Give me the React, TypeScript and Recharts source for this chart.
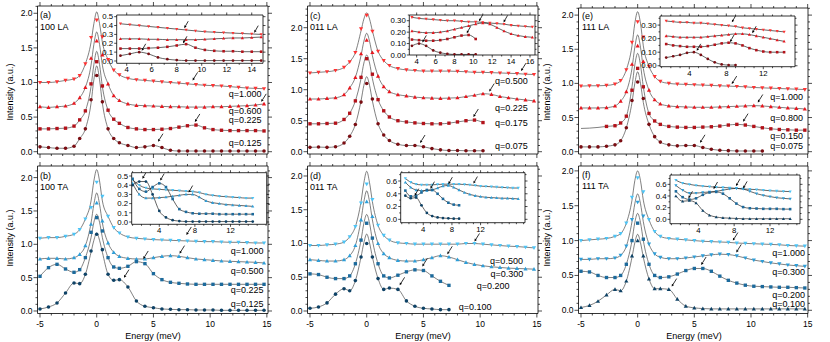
import React from 'react';
import { ComposedChart, Line, Scatter, XAxis, YAxis } from 'recharts';

const W = 830;
const H = 342;
const FONT = '"Liberation Sans", Arial, Helvetica, sans-serif';
const N = null;

// ---------- energy grids (meV) ----------
const M = [-5, -4.25, -3.5, -2.75, -2, -1.5, -1, -0.5, 0, 0.5, 1, 1.5, 2, 2.75, 3.5, 4.25, 5, 5.75, 6.5, 7.25, 8, 8.75, 9.5, 10.25, 11, 11.75, 12.5, 13.25, 14, 14.75];
const P = [-0.5, -0.25, 0, 0.25, 0.5];
const IA = [3.5, 4.25, 5, 5.75, 6.5, 7.25, 8, 8.75, 9.5, 10.25, 11, 11.75, 12.5, 13.25, 14, 14.75];
const IB = [1, 1.75, 2.5, 3.25, 4, 4.75, 5.5, 6.25, 7, 7.75, 8.5, 9.25, 10, 10.75, 11.5, 12.25, 13, 13.75, 14.5];
const IC = [3.5, 4.25, 5, 5.75, 6.5, 7.25, 8, 8.75, 9.5, 10.25, 11, 11.75, 12.5, 13.25, 14, 14.75, 15.5, 16.25];
const ID = [1.5, 2.25, 3, 3.75, 4.5, 5.25, 6, 6.75, 7.5, 8.25, 9, 9.75, 10.5, 11.25, 12, 12.75, 13.5, 14.25, 15, 15.75, 16.5, 17.25];
const IE = [1.5, 2.25, 3, 3.75, 4.5, 5.25, 6, 6.75, 7.5, 8.25, 9, 9.75, 10.5, 11.25, 12, 12.75, 13.5, 14.25];

// ---------- (a) 100 LA ----------
const a1 = [1.00, 1.00, 1.01, 1.03, 1.05, 1.10, 1.27, 1.65, 1.90, 1.66, 1.33, 1.18, 1.11, 1.06, 1.04, 1.03, 1.02, 1.01, 1.00, 0.99, 0.98, 0.97, 0.96, 0.955, 0.95, 0.94, 0.93, 0.92, 0.915, 0.91];
const a1P = [1.58, 1.85, 2.02, 1.85, 1.58];
const a2 = [0.65, 0.64, 0.65, 0.66, 0.70, 0.78, 0.93, 1.35, 1.60, 1.40, 0.98, 0.81, 0.74, 0.69, 0.67, 0.665, 0.66, 0.655, 0.65, 0.65, 0.645, 0.645, 0.645, 0.65, 0.65, 0.655, 0.66, 0.665, 0.675, 0.69];
const a2P = [1.25, 1.55, 1.73, 1.55, 1.25];
const a3 = [0.33, 0.33, 0.335, 0.34, 0.37, 0.46, 0.59, 0.98, 1.30, 0.95, 0.60, 0.47, 0.41, 0.35, 0.33, 0.32, 0.32, 0.325, 0.335, 0.355, 0.375, 0.385, 0.345, 0.32, 0.31, 0.305, 0.305, 0.305, 0.305, 0.30];
const a3P = [0.94, 1.26, 1.45, 1.26, 0.94];
const a4 = [0.07, 0.06, 0.05, 0.05, 0.08, 0.19, 0.33, 0.75, 1.10, 0.72, 0.33, 0.19, 0.13, 0.09, 0.06, 0.07, 0.09, 0.06, 0.02, 0.01, 0.01, 0.01, 0.01, 0.01, 0.01, 0.01, 0.01, 0.01, 0.01, 0.01];
const a4P = [0.70, 1.04, 1.24, 1.04, 0.70];
const aIn1 = [0.42, 0.41, 0.40, 0.39, 0.38, 0.37, 0.36, 0.35, 0.34, 0.33, 0.325, 0.32, 0.315, 0.31, 0.305, 0.30];
const aIn2 = [0.25, 0.25, 0.25, 0.245, 0.245, 0.24, 0.24, 0.24, 0.24, 0.245, 0.25, 0.255, 0.26, 0.26, 0.265, 0.27];
const aIn3 = [0.14, 0.14, 0.14, 0.145, 0.15, 0.16, 0.175, 0.19, 0.15, 0.125, 0.115, 0.11, 0.11, 0.105, 0.105, 0.105];
const aIn4 = [0.06, 0.08, 0.10, 0.08, 0.04, 0.02, 0.01, 0.005, 0.005, 0.005, 0.005, 0.005, 0.005, 0.005, 0.005, 0.005];
const aQ = ['q=1.000', 'q=0.600', 'q=0.225', 'q=0.125'];

// ---------- (b) 100 TA ----------
const b1 = [1.09, 1.10, 1.10, 1.12, 1.15, 1.22, 1.38, 1.55, 1.93, 1.72, 1.42, 1.25, 1.17, 1.11, 1.09, 1.08, 1.07, 1.065, 1.06, 1.055, 1.05, 1.045, 1.04, 1.04, 1.035, 1.03, 1.03, 1.025, 1.02, 1.02];
const b1P = [1.65, 1.95, 2.12, 1.95, 1.65];
const b2 = [0.78, 0.79, 0.79, 0.78, 0.80, 0.85, 0.98, 1.30, 1.62, 1.35, 1.02, 0.88, 0.82, 0.79, 0.78, 0.78, 0.80, 0.82, 0.83, 0.82, 0.80, 0.78, 0.77, 0.76, 0.75, 0.745, 0.74, 0.735, 0.73, 0.72];
const b2P = [1.32, 1.60, 1.77, 1.60, 1.32];
const b3 = [0.52, 0.65, 0.70, 0.63, 0.58, 0.62, 0.80, 1.18, 1.40, 1.20, 0.80, 0.66, 0.64, 0.67, 0.74, 0.71, 0.56, 0.47, 0.43, 0.415, 0.405, 0.40, 0.40, 0.40, 0.40, 0.40, 0.40, 0.40, 0.40, 0.40];
const b3P = [1.10, 1.33, 1.45, 1.33, 1.10];
const b4 = [0.03, 0.06, 0.12, 0.27, 0.42, 0.41, 0.55, 0.90, 1.15, 0.92, 0.55, 0.46, 0.47, 0.36, 0.15, 0.07, 0.05, 0.03, 0.025, 0.02, 0.02, 0.015, 0.015, 0.015, 0.01, 0.01, 0.01, 0.01, 0.01, 0.01];
const b4P = [0.88, 1.06, 1.17, 1.06, 0.88];
const bIn1 = [0.46, 0.40, 0.37, 0.36, 0.355, 0.35, 0.345, 0.34, 0.335, 0.33, 0.32, 0.30, 0.29, 0.28, 0.275, 0.27, 0.265, 0.26, 0.26];
const bIn2 = [0.42, 0.30, 0.26, 0.26, 0.265, 0.27, 0.28, 0.29, 0.30, 0.30, 0.27, 0.23, 0.21, 0.20, 0.19, 0.185, 0.18, 0.175, 0.17];
const bIn3 = [0.47, 0.36, 0.33, 0.38, 0.42, 0.38, 0.25, 0.14, 0.11, 0.095, 0.09, 0.09, 0.09, 0.085, 0.085, 0.085, 0.085, 0.085, 0.085];
const bIn4 = [0.40, 0.44, 0.44, 0.30, 0.12, 0.05, 0.02, 0.01, 0.005, 0.005, 0.005, 0.005, 0.005, 0.005, 0.005, 0.005, 0.005, 0.005, 0.005];
const bQ = ['q=1.000', 'q=0.500', 'q=0.225', 'q=0.125'];

// ---------- (c) 011 LA ----------
const c1 = [1.27, 1.28, 1.29, 1.31, 1.36, 1.45, 1.60, 1.98, 2.20, 1.94, 1.62, 1.47, 1.39, 1.34, 1.32, 1.31, 1.30, 1.30, 1.30, 1.30, 1.295, 1.29, 1.28, 1.28, 1.275, 1.27, 1.265, 1.26, 1.25, 1.245];
const c1P = [1.95, 2.14, 2.24, 2.14, 1.95];
const c2 = [0.85, 0.85, 0.86, 0.87, 0.92, 1.03, 1.20, 1.58, 1.80, 1.60, 1.22, 1.05, 0.97, 0.92, 0.90, 0.88, 0.87, 0.865, 0.86, 0.865, 0.87, 0.89, 0.91, 0.935, 0.925, 0.89, 0.87, 0.85, 0.835, 0.82];
const c2P = [1.55, 1.78, 1.91, 1.78, 1.55];
const c3 = [0.45, 0.45, 0.455, 0.46, 0.52, 0.62, 0.82, 1.20, 1.50, 1.25, 0.84, 0.66, 0.56, 0.50, 0.48, 0.465, 0.455, 0.45, 0.45, 0.46, 0.48, 0.50, 0.51, 0.47, N, N, N, N, N, N];
const c3P = [1.18, 1.43, 1.56, 1.43, 1.18];
const c4 = [0.07, 0.075, 0.07, 0.08, 0.14, 0.25, 0.44, 0.80, 1.10, 0.85, 0.45, 0.27, 0.18, 0.12, 0.10, 0.10, 0.08, 0.05, 0.03, 0.02, 0.02, 0.015, 0.015, 0.015, N, N, N, N, N, N];
const c4P = [0.82, 1.07, 1.21, 1.07, 0.82];
const cIn1 = [0.33, 0.32, 0.315, 0.31, 0.305, 0.30, 0.30, 0.295, 0.29, 0.29, 0.285, 0.28, 0.275, 0.27, 0.26, 0.255, 0.25, 0.245];
const cIn2 = [0.21, 0.20, 0.195, 0.195, 0.20, 0.21, 0.225, 0.24, 0.255, 0.27, 0.28, 0.27, 0.24, 0.21, 0.185, 0.17, 0.16, 0.155];
const cIn3 = [0.135, 0.13, 0.125, 0.125, 0.13, 0.14, 0.155, 0.17, 0.175, 0.14, N, N, N, N, N, N, N, N];
const cIn4 = [0.08, 0.10, 0.08, 0.04, 0.02, 0.01, 0.005, 0.005, 0.005, 0.005, N, N, N, N, N, N, N, N];
const cQ = ['q=0.500', 'q=0.225', 'q=0.175', 'q=0.075'];

// ---------- (d) 011 TA ----------
const d1 = [0.97, 0.97, 0.98, 0.99, 1.02, 1.10, 1.25, 1.60, 1.88, 1.65, 1.27, 1.12, 1.05, 1.01, 1.00, 0.99, 0.99, 0.99, 0.99, 0.99, 0.99, 1.00, 1.00, 0.99, 0.98, 0.97, 0.96, 0.955, 0.945, 0.935];
const d1P = [1.62, 1.90, 2.07, 1.90, 1.62];
const d2 = [0.76, 0.75, 0.74, 0.74, 0.76, 0.82, 0.97, 1.35, 1.62, 1.40, 1.00, 0.85, 0.79, 0.75, 0.74, 0.74, 0.76, 0.79, 0.82, 0.80, 0.76, 0.72, 0.69, 0.67, 0.655, 0.645, 0.635, 0.63, 0.625, 0.62];
const d2P = [1.35, 1.62, 1.78, 1.62, 1.35];
const d3 = [0.55, 0.54, 0.50, 0.48, 0.48, 0.52, 0.70, 1.05, 1.30, 1.08, 0.70, 0.52, 0.49, 0.53, 0.58, 0.61, 0.60, 0.52, 0.44, 0.38, N, N, N, N, N, N, N, N, N, N];
const d3P = [1.05, 1.30, 1.43, 1.30, 1.05];
const d4 = [0.04, 0.06, 0.12, 0.25, 0.33, 0.30, 0.45, 0.80, 1.00, 0.80, 0.48, 0.32, 0.34, 0.32, 0.15, 0.07, 0.04, 0.03, 0.02, 0.02, N, N, N, N, N, N, N, N, N, N];
const d4P = [0.80, 1.01, 1.14, 1.01, 0.80];
const dIn1 = [0.64, 0.58, 0.55, 0.54, 0.54, 0.54, 0.545, 0.55, 0.55, 0.55, 0.55, 0.545, 0.54, 0.53, 0.52, 0.515, 0.51, 0.505, 0.50, 0.495, 0.49, 0.49];
const dIn2 = [0.58, 0.50, 0.46, 0.45, 0.45, 0.46, 0.49, 0.52, 0.53, 0.50, 0.46, 0.42, 0.39, 0.37, 0.355, 0.345, 0.34, 0.335, 0.33, 0.33, 0.325, 0.32];
const dIn3 = [0.45, 0.36, 0.37, 0.42, 0.46, 0.46, 0.40, 0.32, 0.26, 0.23, 0.22, N, N, N, N, N, N, N, N, N, N, N];
const dIn4 = [0.37, 0.33, 0.34, 0.22, 0.10, 0.05, 0.03, 0.02, 0.015, 0.01, 0.01, N, N, N, N, N, N, N, N, N, N, N];
const dQ = ['q=0.500', 'q=0.300', 'q=0.200', 'q=0.100'];

// ---------- (e) 111 LA ----------
const e1 = [0.96, 0.965, 0.965, 0.97, 0.99, 1.04, 1.20, 1.60, 1.90, 1.68, 1.25, 1.10, 1.03, 1.00, 0.99, 0.985, 0.98, 0.975, 0.97, 0.965, 0.96, 0.955, 0.95, 0.94, 0.935, 0.93, 0.925, 0.92, 0.915, 0.91];
const e1P = [1.55, 1.88, 2.05, 1.88, 1.55];
const e2 = [0.64, 0.64, 0.64, 0.645, 0.67, 0.74, 0.88, 1.28, 1.55, 1.32, 0.90, 0.76, 0.70, 0.67, 0.66, 0.655, 0.65, 0.65, 0.65, 0.655, 0.66, 0.665, 0.67, 0.675, 0.67, 0.66, 0.65, 0.64, 0.635, 0.625];
const e2P = [1.22, 1.53, 1.71, 1.53, 1.22];
const e3 = [N, N, N, 0.37, 0.38, 0.42, 0.52, 0.90, 1.22, 0.95, 0.56, 0.45, 0.40, 0.37, 0.36, 0.355, 0.355, 0.36, 0.365, 0.375, 0.39, 0.40, 0.39, 0.37, 0.35, 0.335, 0.325, 0.32, 0.315, 0.315];
const e3P = [0.95, 1.27, 1.44, 1.27, 0.95];
const e3Ext = [[-5, 0.34], [-4.25, 0.345], [-3.5, 0.355]];
const e4 = [0.07, 0.07, 0.07, 0.08, 0.10, 0.16, 0.35, 0.75, 1.02, 0.78, 0.40, 0.22, 0.14, 0.10, 0.085, 0.09, 0.09, 0.06, 0.035, 0.02, 0.015, 0.01, 0.01, 0.01, 0.01, N, N, N, N, N];
const e4P = [0.72, 1.00, 1.17, 1.00, 0.72];
const eIn1 = [0.33, 0.325, 0.32, 0.32, 0.315, 0.315, 0.31, 0.305, 0.30, 0.295, 0.29, 0.28, 0.275, 0.27, 0.265, 0.26, 0.255, 0.25];
const eIn2 = [0.22, 0.215, 0.21, 0.21, 0.21, 0.21, 0.215, 0.22, 0.225, 0.23, 0.235, 0.235, 0.23, 0.22, 0.21, 0.20, 0.19, 0.18];
const eIn3 = [0.16, 0.15, 0.145, 0.14, 0.14, 0.14, 0.145, 0.155, 0.165, 0.17, 0.165, 0.15, 0.13, 0.115, 0.105, 0.10, 0.10, 0.10];
const eIn4 = [0.06, 0.07, 0.08, 0.095, 0.10, 0.08, 0.05, 0.025, 0.01, 0.005, 0.005, N, N, N, N, N, N, N];
const eQ = ['q=1.000', 'q=0.800', 'q=0.150', 'q=0.075'];

// ---------- (f) 111 TA ----------
const f1 = [1.00, 1.01, 1.02, 1.03, 1.06, 1.10, 1.25, 1.62, 1.90, 1.70, 1.30, 1.13, 1.06, 1.03, 1.02, 1.01, 1.00, 0.99, 0.985, 0.98, 0.975, 0.965, 0.96, 0.955, 0.95, 0.945, 0.94, 0.93, 0.925, 0.92];
const f1P = [1.58, 1.86, 2.00, 1.86, 1.58];
const f2 = [0.73, 0.73, 0.74, 0.74, 0.75, 0.79, 0.92, 1.30, 1.55, 1.35, 0.95, 0.81, 0.76, 0.74, 0.74, 0.75, 0.765, 0.78, 0.795, 0.805, 0.80, 0.78, 0.75, 0.72, 0.70, 0.68, 0.665, 0.65, 0.64, 0.63];
const f2P = [1.27, 1.53, 1.67, 1.53, 1.27];
const f3 = [0.56, 0.55, 0.50, 0.47, 0.47, 0.50, 0.66, 1.00, 1.25, 1.02, 0.66, 0.50, 0.47, 0.48, 0.52, 0.57, 0.60, 0.60, 0.56, 0.49, 0.43, 0.39, 0.36, 0.345, 0.34, 0.335, 0.33, 0.33, 0.325, 0.32];
const f3P = [1.00, 1.26, 1.39, 1.26, 1.00];
const f4 = [0.04, 0.07, 0.13, 0.22, 0.30, 0.28, 0.42, 0.78, 1.00, 0.78, 0.45, 0.31, 0.31, 0.30, 0.16, 0.06, 0.035, 0.025, 0.02, 0.02, 0.02, 0.02, 0.02, 0.02, 0.02, 0.02, 0.02, 0.02, 0.02, 0.02];
const f4P = [0.76, 0.97, 1.09, 0.97, 0.76];
const fIn1 = [0.67, 0.62, 0.60, 0.58, 0.57, 0.56, 0.55, 0.545, 0.54, 0.53, 0.52, 0.515, 0.51, 0.50, 0.49, 0.485, 0.48, 0.475];
const fIn2 = [0.58, 0.50, 0.45, 0.45, 0.46, 0.47, 0.48, 0.50, 0.52, 0.53, 0.52, 0.48, 0.44, 0.41, 0.39, 0.37, 0.36, 0.35];
const fIn3 = [0.48, 0.38, 0.34, 0.36, 0.42, 0.46, 0.47, 0.44, 0.36, 0.27, 0.21, 0.19, 0.185, 0.18, 0.18, 0.18, 0.175, 0.175];
const fIn4 = [0.40, 0.31, 0.32, 0.28, 0.15, 0.07, 0.04, 0.025, 0.02, 0.015, 0.01, 0.01, 0.01, 0.01, 0.01, 0.01, 0.01, 0.01];
const fQ = ['q=1.000', 'q=0.300', 'q=0.200', 'q=0.100'];

// ---------- ticks ----------
const MAIN_X_TICKS = [-5, -4, -3, -2, -1, 0, 1, 2, 3, 4, 5, 6, 7, 8, 9, 10, 11, 12, 13, 14, 15];
const MAIN_X_MAJOR = [-5, 0, 5, 10, 15];
const MAIN_Y_TICKS = [0, 0.1, 0.2, 0.3, 0.4, 0.5, 0.6, 0.7, 0.8, 0.9, 1, 1.1, 1.2, 1.3, 1.4, 1.5, 1.6, 1.7, 1.8, 1.9, 2, 2.1, 2.2, 2.3];
const MAIN_Y_MAJOR = [0, 0.5, 1, 1.5, 2];
const INT_TICKS = [1, 2, 3, 4, 5, 6, 7, 8, 9, 10, 11, 12, 13, 14, 15, 16, 17, 18];
const Y_TENTHS = [0, 0.1, 0.2, 0.3, 0.4, 0.5, 0.6, 0.7];
const Y_HALF_TENTHS = [0, 0.05, 0.1, 0.15, 0.2, 0.25, 0.3, 0.35];

// ---------- styles ----------
const LA = ['#ff3333', '#e8161e', '#b3121a', '#7a0d12'];
const TA = ['#4cc4f6', '#2e9ed8', '#1c6a9c', '#0e4266'];
const KINDS = ['down', 'up', 'square', 'circle'];
const KINDS_F = ['down', 'down', 'square', 'up'];

type Pt = { x: number; y: number; t?: string };
type CurveDef = { grid: number[]; v: (number | null)[]; peak?: number[]; ext?: number[][]; color: string; kind: string };
type PanelDef = {
  box: number[];
  xd: number[];
  yd: number[];
  xt: number[];
  xmaj: number[];
  yt: number[];
  ymaj: number[];
  xfmt: (v: number) => string;
  yfmt: (v: number) => string;
  showX: boolean;
  inset: boolean;
  curves: CurveDef[];
  arrows: number[][];
  labels?: Pt[];
};

function markerPts(grid: number[], vals: (number | null)[]): Pt[] {
  const out: Pt[] = [];
  grid.forEach((x, i) => {
    const y = vals[i];
    if (y !== null && y !== undefined) out.push({ x, y });
  });
  return out;
}

function linePts(grid: number[], vals: (number | null)[], peak?: number[], ext?: number[][]): Pt[] {
  const out: Pt[] = [];
  grid.forEach((x, i) => {
    const y = vals[i];
    if (y === null || y === undefined) return;
    if (peak && Math.abs(x) <= 0.5) return;
    out.push({ x, y });
  });
  if (peak) P.forEach((x, i) => out.push({ x, y: peak[i] }));
  if (ext) ext.forEach((p) => out.push({ x: p[0], y: p[1] }));
  out.sort((a, b) => a.x - b.x);
  return out;
}

function markerShape(kind: string, color: string, r: number) {
  return (props: any) => {
    const { cx, cy } = props;
    if (typeof cx !== 'number' || typeof cy !== 'number') return <g />;
    if (kind === 'down')
      return <path d={`M${cx - r},${cy - r * 0.75}L${cx + r},${cy - r * 0.75}L${cx},${cy + r}Z`} fill={color} />;
    if (kind === 'up')
      return <path d={`M${cx - r},${cy + r * 0.75}L${cx + r},${cy + r * 0.75}L${cx},${cy - r}Z`} fill={color} />;
    if (kind === 'square')
      return <rect x={cx - r * 0.8} y={cy - r * 0.8} width={r * 1.6} height={r * 1.6} fill={color} />;
    return <circle cx={cx} cy={cy} r={r * 0.85} fill={color} />;
  };
}

function arrowShape(dx: number, dy: number) {
  return (props: any) => {
    const { cx, cy } = props;
    if (typeof cx !== 'number' || typeof cy !== 'number') return <g />;
    const len = Math.hypot(dx, dy);
    const ux = -dx / len;
    const uy = dy / len;
    const hl = 2.6;
    const hw = 1.3;
    const bx = cx - ux * hl;
    const by = cy - uy * hl;
    const px = -uy * hw;
    const py = ux * hw;
    return (
      <g>
        <line x1={cx + dx} y1={cy - dy} x2={bx} y2={by} stroke="#000" strokeWidth={0.8} />
        <path d={`M${cx},${cy}L${bx + px},${by + py}L${bx - px},${by - py}Z`} fill="#000" />
      </g>
    );
  };
}

function labelShape(fs: number) {
  return (props: any) => {
    const { cx, cy, payload } = props;
    if (typeof cx !== 'number' || typeof cy !== 'number') return <g />;
    return (
      <text x={cx} y={cy} dy="0.35em" textAnchor="end" fontSize={fs} fontFamily={FONT} fill="#000">
        {payload && payload.t}
      </text>
    );
  };
}

function tickFn(side: string, majors: number[], showLabels: boolean, fmt: (v: number) => string, fs: number, majLen: number, minLen: number, off: number) {
  return (props: any) => {
    const { x, y, payload } = props;
    const v = payload.value;
    const maj = majors.some((m) => Math.abs(m - v) < 1e-6);
    const L = maj ? majLen : minLen;
    let x2 = x;
    let y2 = y;
    if (side === 'b') y2 = y + L;
    else if (side === 't') y2 = y - L;
    else if (side === 'l') x2 = x - L;
    else x2 = x + L;
    let label = null;
    if (maj && showLabels) {
      if (side === 'b')
        label = (
          <text x={x} y={y + off} textAnchor="middle" fontSize={fs} fontFamily={FONT} fill="#000">
            {fmt(v)}
          </text>
        );
      else if (side === 'l')
        label = (
          <text x={x - off} y={y} dy="0.35em" textAnchor="end" fontSize={fs} fontFamily={FONT} fill="#000">
            {fmt(v)}
          </text>
        );
    }
    return (
      <g>
        <line x1={x} y1={y} x2={x2} y2={y2} stroke="#000" strokeWidth={0.7} />
        {label}
      </g>
    );
  };
}

const fmt0 = (v: number) => String(v);
const fmt1 = (v: number) => v.toFixed(1);
const fmt2 = (v: number) => v.toFixed(2);

function curves4(grid: number[], vals: (number | null)[][], peaks: (number[] | undefined)[], colors: string[], kinds: string[], exts?: (number[][] | undefined)[]): CurveDef[] {
  return vals.map((v, i) => ({ grid, v, peak: peaks[i], color: colors[i], kind: kinds[i], ext: exts ? exts[i] : undefined }));
}

function qLabels(xs: number[], ys: number[], texts: string[]): Pt[] {
  return texts.map((t, i) => ({ x: xs[i], y: ys[i], t }));
}

const mainBase = { xt: MAIN_X_TICKS, xmaj: MAIN_X_MAJOR, yt: MAIN_Y_TICKS, ymaj: MAIN_Y_MAJOR, xfmt: fmt0, yfmt: fmt1, inset: false };
const noPeaks = [undefined, undefined, undefined, undefined];

const PANELS: PanelDef[] = [
  {
    ...mainBase, box: [37.5, 6, 268, 154], xd: [-5.22, 15.1], yd: [-0.033, 2.105], showX: false,
    curves: curves4(M, [a1, a2, a3, a4], [a1P, a2P, a3P, a4P], LA, KINDS),
    arrows: [[8.45, 1.03], [14.5, 0.72], [8.65, 0.43], [5.4, 0.145]],
    labels: qLabels([14.53, 14.53, 14.53, 14.53], [0.84, 0.595, 0.455, 0.13], aQ),
  },
  {
    ...mainBase, box: [37.5, 166, 268, 313.5], xd: [-5.22, 15.1], yd: [-0.0375, 2.174], showX: true,
    curves: curves4(M, [b1, b2, b3, b4], [b1P, b2P, b3P, b4P], TA, KINDS),
    arrows: [[7.9, 1.14], [7.3, 0.86], [4.1, 0.78], [2.4, 0.5]],
    labels: qLabels([14.7, 14.7, 14.7, 14.7], [0.9, 0.6, 0.31, 0.11], bQ),
  },
  {
    ...mainBase, box: [307.5, 6, 538, 154], xd: [-5.22, 15.1], yd: [-0.037, 2.35], showX: false,
    curves: curves4(M, [c1, c2, c3, c4], [c1P, c2P, c3P, c4P], LA, KINDS),
    arrows: [[13.6, 1.3], [10.8, 0.97], [9.4, 0.56], [4.7, 0.14]],
    labels: qLabels([14.2, 14.2, 14.2, 14.2], [1.145, 0.715, 0.468, 0.097], cQ),
  },
  {
    ...mainBase, box: [307.5, 166, 538, 313.5], xd: [-5.22, 15.1], yd: [-0.037, 2.148], showX: true,
    curves: curves4(M, [d1, d2, d3, d4], [d1P, d2P, d3P, d4P], TA, KINDS),
    arrows: [[9.5, 1.03], [7.1, 0.84], [4.9, 0.66], [2.9, 0.38]],
    labels: qLabels([13.77, 13.8, 12.6, 11.0], [0.74, 0.553, 0.37, 0.06], dQ),
  },
  {
    ...mainBase, box: [578.5, 8, 808, 154], xd: [-5.22, 15.03], yd: [-0.034, 2.104], showX: false,
    curves: curves4(M, [e1, e2, e3, e4], [e1P, e2P, e3P, e4P], LA, KINDS, [undefined, undefined, e3Ext, undefined]),
    arrows: [[8.3, 0.99], [10.6, 0.72], [9.3, 0.44], [5.5, 0.13]],
    labels: qLabels([14.6, 14.6, 14.6, 14.6], [0.805, 0.5, 0.225, 0.085], eQ),
  },
  {
    ...mainBase, box: [578.5, 166, 808, 313.5], xd: [-5.22, 15.03], yd: [-0.046, 2.07], showX: true,
    curves: curves4(M, [f1, f2, f3, f4], [f1P, f2P, f3P, f4P], TA, KINDS_F),
    arrows: [[8.4, 1.0], [8.7, 0.83], [5.6, 0.65], [3.0, 0.34]],
    labels: qLabels([14.76, 14.76, 14.76, 14.76], [0.83, 0.555, 0.22, 0.095], fQ),
  },
];

const INSETS: PanelDef[] = [
  {
    box: [116.7, 15, 263, 63.3], xd: [3.2, 14.9], yd: [-0.026, 0.519], xt: INT_TICKS, xmaj: [4, 6, 8, 10, 12, 14],
    yt: Y_TENTHS, ymaj: [0, 0.1, 0.2, 0.3, 0.4, 0.5], xfmt: fmt0, yfmt: fmt1, showX: true, inset: true,
    curves: curves4(IA, [aIn1, aIn2, aIn3, aIn4], noPeaks, LA, KINDS),
    arrows: [[8.6, 0.37], [14.2, 0.32], [8.5, 0.2], [5.2, 0.115]],
  },
  {
    box: [131.7, 172.7, 266.7, 224.3], xd: [0.9, 16.07], yd: [-0.025, 0.536], xt: INT_TICKS, xmaj: [4, 8, 12],
    yt: Y_TENTHS, ymaj: [0, 0.1, 0.2, 0.3, 0.4, 0.5], xfmt: fmt0, yfmt: fmt1, showX: true, inset: true,
    curves: curves4(IB, [bIn1, bIn2, bIn3, bIn4], noPeaks, TA, KINDS),
    arrows: [[2.1, 0.47], [4.1, 0.45], [7.3, 0.32]],
  },
  {
    box: [409.3, 15, 535, 55], xd: [3.22, 16.53], yd: [0, 0.35], xt: INT_TICKS, xmaj: [4, 6, 8, 10, 12, 14, 16],
    yt: Y_HALF_TENTHS, ymaj: [0, 0.1, 0.2, 0.3], xfmt: fmt0, yfmt: fmt2, showX: true, inset: true,
    curves: curves4(IC, [cIn1, cIn2, cIn3, cIn4], noPeaks, LA, KINDS),
    arrows: [[10.6, 0.295], [13.2, 0.285], [9.3, 0.19], [4.6, 0.11]],
  },
  {
    box: [400.7, 172.7, 525, 222.7], xd: [0.85, 18.2], yd: [-0.053, 0.73], xt: INT_TICKS, xmaj: [4, 8, 12],
    yt: Y_TENTHS, ymaj: [0, 0.2, 0.4, 0.6], xfmt: fmt0, yfmt: fmt1, showX: true, inset: true,
    curves: curves4(ID, [dIn1, dIn2, dIn3, dIn4], noPeaks, TA, KINDS),
    arrows: [[11.0, 0.56], [7.5, 0.55], [5.0, 0.48], [2.8, 0.37]],
  },
  {
    box: [660, 16, 795, 66.7], xd: [0.83, 15.43], yd: [-0.007, 0.367], xt: INT_TICKS, xmaj: [4, 8, 12],
    yt: Y_HALF_TENTHS, ymaj: [0, 0.1, 0.2, 0.3], xfmt: fmt0, yfmt: fmt2, showX: true, inset: true,
    curves: curves4(IE, [eIn1, eIn2, eIn3, eIn4], noPeaks, LA, KINDS),
    arrows: [[8.6, 0.32], [10.8, 0.24], [8.4, 0.175], [4.8, 0.11]],
  },
  {
    box: [670, 175, 800, 223.7], xd: [0.84, 15.35], yd: [-0.075, 0.76], xt: INT_TICKS, xmaj: [4, 8, 12],
    yt: Y_TENTHS, ymaj: [0, 0.2, 0.4, 0.6], xfmt: fmt0, yfmt: fmt1, showX: true, inset: true,
    curves: curves4(IE, [fIn1, fIn2, fIn3, fIn4], noPeaks, TA, KINDS_F),
    arrows: [[5.7, 0.52], [8.2, 0.57], [9.0, 0.53], [2.9, 0.36]],
  },
];

const YW = 30;
const RW = 4;
const XH = 20;
const TH = 4;
const AX = { stroke: '#000', strokeWidth: 0.8 };

function Panel({ def, idx }: { def: PanelDef; idx: string }) {
  const [L, T, R, B] = def.box;
  const margin = { left: L - YW, top: T - TH, right: W - R - RW, bottom: H - B - XH };
  const inR = (v: number, d: number[]) => v >= d[0] - 1e-9 && v <= d[1] + 1e-9;
  const xt = def.xt.filter((v) => inR(v, def.xd));
  const yt = def.yt.filter((v) => inR(v, def.yd));
  const fs = def.inset ? 7.8 : 8.5;
  const maj = def.inset ? 2.5 : 4;
  const min = def.inset ? 1.5 : 2;
  const xoff = def.inset ? 9 : 13.8;
  const yoff = def.inset ? 3.5 : 5;
  const mr = def.inset ? 1.6 : 2.1;
  const lw = def.inset ? 0.7 : 0.7;
  const lc = def.inset ? '#222' : '#4a4a4a';
  const arrow = def.inset ? arrowShape(4, 7) : arrowShape(5, 8);
  return (
    <div style={{ position: 'absolute', left: 0, top: 0 }}>
      <ComposedChart width={W} height={H} margin={margin}>
        <XAxis xAxisId="b" orientation="bottom" dataKey="x" type="number" domain={def.xd} allowDataOverflow ticks={xt} interval={0}
          tickSize={0} tickMargin={0} tickLine={false} axisLine={AX} height={XH}
          tick={tickFn('b', def.xmaj, def.showX, def.xfmt, fs, maj, min, xoff)} />
        <XAxis xAxisId="t" orientation="top" dataKey="x" type="number" domain={def.xd} allowDataOverflow ticks={xt} interval={0}
          tickSize={0} tickMargin={0} tickLine={false} axisLine={AX} height={TH}
          tick={tickFn('t', def.xmaj, false, def.xfmt, fs, maj, min, xoff)} />
        <YAxis yAxisId="l" orientation="left" dataKey="y" type="number" domain={def.yd} allowDataOverflow ticks={yt} interval={0}
          tickSize={0} tickMargin={0} tickLine={false} axisLine={AX} width={YW}
          tick={tickFn('l', def.ymaj, true, def.yfmt, fs, maj, min, yoff)} />
        <YAxis yAxisId="r" orientation="right" dataKey="y" type="number" domain={def.yd} allowDataOverflow ticks={yt} interval={0}
          tickSize={0} tickMargin={0} tickLine={false} axisLine={AX} width={RW}
          tick={tickFn('r', def.ymaj, false, def.yfmt, fs, maj, min, yoff)} />
        {def.curves.map((c, i) => (
          <Line key={`${idx}l${i}`} xAxisId="b" yAxisId="l" data={linePts(c.grid, c.v, c.peak, c.ext)} dataKey="y"
            type="monotone" stroke={lc} strokeWidth={lw} dot={false} activeDot={false} isAnimationActive={false} />
        ))}
        {def.curves.map((c, i) => (
          <Scatter key={`${idx}s${i}`} xAxisId="b" yAxisId="l" data={markerPts(c.grid, c.v)} dataKey="y"
            shape={markerShape(c.kind, c.color, mr)} isAnimationActive={false} />
        ))}
        <Scatter key={`${idx}arr`} xAxisId="b" yAxisId="l" data={def.arrows.map((a) => ({ x: a[0], y: a[1] }))} dataKey="y"
          shape={arrow} isAnimationActive={false} />
        {def.labels ? (
          <Scatter key={`${idx}lab`} xAxisId="b" yAxisId="l" data={def.labels} dataKey="y" shape={labelShape(9)} isAnimationActive={false} />
        ) : null}
      </ComposedChart>
    </div>
  );
}

const TITLES = [
  { x: 40, y: 18, t: '(a)' }, { x: 40, y: 30, t: '100 LA' },
  { x: 40, y: 179, t: '(b)' }, { x: 40, y: 190, t: '100 TA' },
  { x: 310, y: 19, t: '(c)' }, { x: 310, y: 30, t: '011 LA' },
  { x: 310, y: 179, t: '(d)' }, { x: 310, y: 190, t: '011 TA' },
  { x: 582, y: 19, t: '(e)' }, { x: 582, y: 30, t: '111 LA' },
  { x: 582, y: 178, t: '(f)' }, { x: 582, y: 189, t: '111 TA' },
];

export default function App() {
  return (
    <div style={{ position: 'absolute', left: 0, top: 0, width: W, height: H, background: '#fff', overflow: 'hidden' }}>
      {PANELS.map((p, i) => (
        <Panel key={`p${i}`} def={p} idx={`p${i}`} />
      ))}
      {INSETS.map((p, i) => (
        <div key={`bg${i}`} style={{ position: 'absolute', left: p.box[0], top: p.box[1], width: p.box[2] - p.box[0], height: p.box[3] - p.box[1], background: '#fff' }} />
      ))}
      {INSETS.map((p, i) => (
        <Panel key={`i${i}`} def={p} idx={`i${i}`} />
      ))}
      <svg width={W} height={H} style={{ position: 'absolute', left: 0, top: 0 }}>
        {TITLES.map((t, i) => (
          <text key={`t${i}`} x={t.x} y={t.y} fontSize={9} fontFamily={FONT} fill="#000">{t.t}</text>
        ))}
        <text x={10} y={92} transform="rotate(-90 10 92)" textAnchor="middle" dy="0.35em" fontSize={9} fontFamily={FONT} fill="#000">Intensity (a.u.)</text>
        <text x={10} y={238} transform="rotate(-90 10 238)" textAnchor="middle" dy="0.35em" fontSize={9} fontFamily={FONT} fill="#000">Intensity (a.u.)</text>
        <text x={547} y={92} transform="rotate(-90 547 92)" textAnchor="middle" dy="0.35em" fontSize={9} fontFamily={FONT} fill="#000">Intensity (a.u.)</text>
        <text x={547} y={238} transform="rotate(-90 547 238)" textAnchor="middle" dy="0.35em" fontSize={9} fontFamily={FONT} fill="#000">Intensity (a.u.)</text>
        <text x={153} y={339} textAnchor="middle" fontSize={9} fontFamily={FONT} fill="#000">Energy (meV)</text>
        <text x={423} y={339} textAnchor="middle" fontSize={9} fontFamily={FONT} fill="#000">Energy (meV)</text>
        <text x={694} y={339} textAnchor="middle" fontSize={9} fontFamily={FONT} fill="#000">Energy (meV)</text>
      </svg>
    </div>
  );
}
